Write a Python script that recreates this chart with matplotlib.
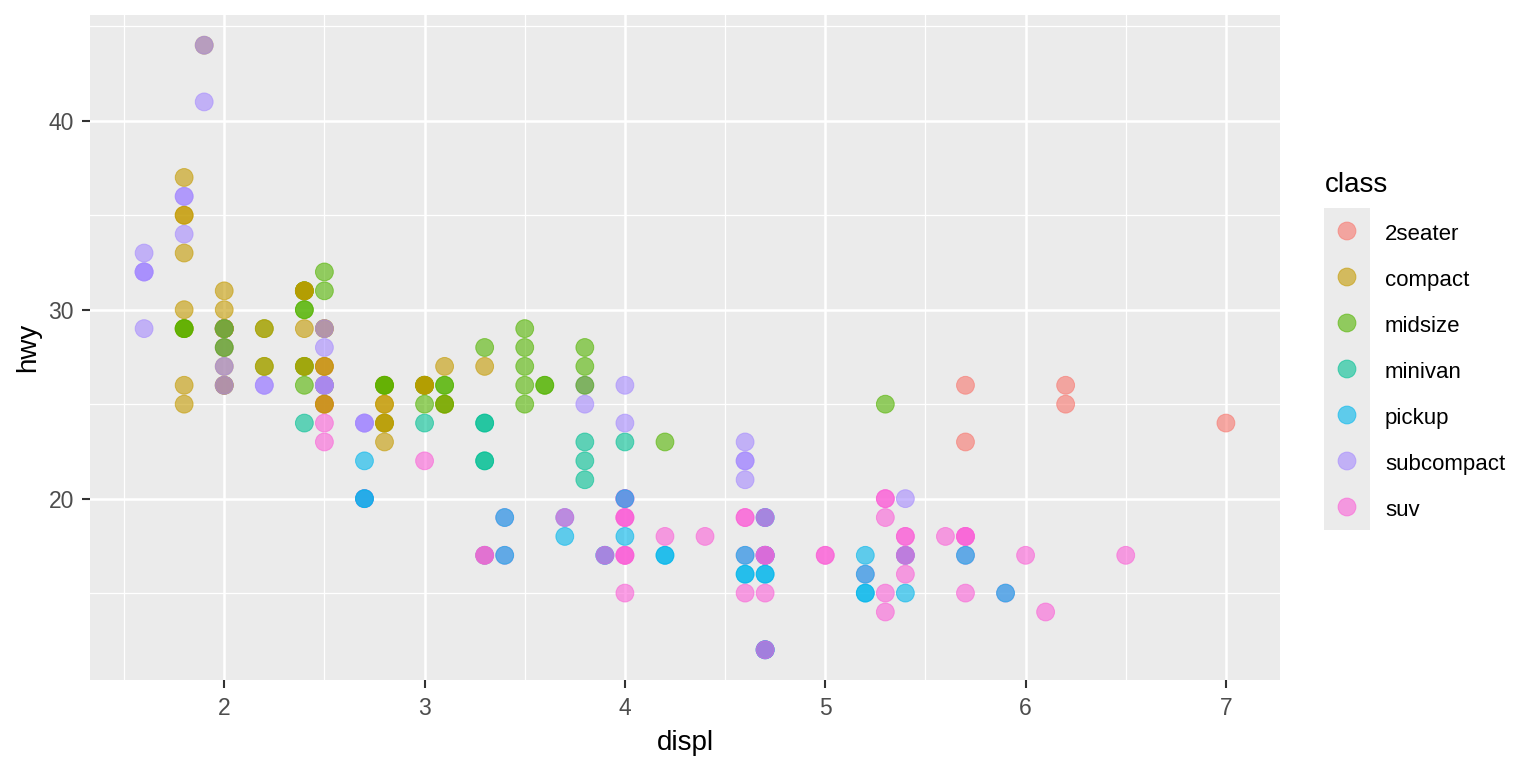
import matplotlib
matplotlib.use("Agg")
import matplotlib.pyplot as plt
from matplotlib.ticker import MultipleLocator
from matplotlib.transforms import blended_transform_factory

# mpg data: engine displacement, highway mpg, vehicle class (data order)
displ = [1.8, 1.8, 2.0, 2.0, 2.8, 2.8, 3.1,
         1.8, 1.8, 2.0, 2.0, 2.8, 2.8, 3.1, 3.1,
         2.8, 3.1, 4.2,
         5.3, 5.3, 5.3, 5.7, 6.0,
         5.7, 5.7, 6.2, 6.2, 7.0,
         5.3, 5.3, 5.7, 6.5,
         2.4, 2.4, 3.1, 3.5, 3.6,
         2.4, 3.0, 3.3, 3.3, 3.3, 3.3, 3.3, 3.8, 3.8, 3.8, 4.0,
         3.7, 3.7, 3.9, 3.9, 4.7, 4.7, 4.7, 5.2, 5.2,
         3.9, 4.7, 4.7, 4.7, 5.2, 5.7, 5.9,
         4.7, 4.7, 4.7, 4.7, 4.7, 4.7, 5.2, 5.2, 5.7, 5.9,
         4.6, 5.4, 5.4,
         4.0, 4.0, 4.0, 4.0, 4.6, 5.0,
         4.2, 4.2, 4.6, 4.6, 4.6, 5.4, 5.4,
         3.8, 3.8, 4.0, 4.0, 4.6, 4.6, 4.6, 4.6, 5.4,
         1.6, 1.6, 1.6, 1.6, 1.6, 1.8, 1.8, 1.8, 2.0,
         2.4, 2.4, 2.4, 2.4, 2.5, 2.5, 3.3,
         2.0, 2.0, 2.0, 2.0, 2.7, 2.7, 2.7,
         3.0, 3.7, 4.0, 4.7, 4.7, 4.7, 5.7, 6.1,
         4.0, 4.2, 4.4, 4.6,
         5.4, 5.4, 5.4,
         4.0, 4.0, 4.6, 5.0,
         2.4, 2.4, 2.5, 2.5, 3.5, 3.5,
         3.0, 3.0, 3.5,
         3.3, 3.3, 4.0, 5.6,
         3.1, 3.8, 3.8, 3.8, 5.3,
         2.5, 2.5, 2.5, 2.5, 2.5, 2.5,
         2.2, 2.2, 2.5, 2.5, 2.5, 2.5, 2.5, 2.5,
         2.7, 2.7, 3.4, 3.4, 4.0, 4.7,
         2.2, 2.2, 2.4, 2.4, 3.0, 3.0, 3.5,
         2.2, 2.2, 2.4, 2.4, 3.0, 3.0, 3.3,
         1.8, 1.8, 1.8, 1.8, 1.8,
         4.7, 5.7,
         2.7, 2.7, 2.7, 3.4, 3.4, 4.0, 4.0,
         2.0, 2.0, 2.0, 2.0, 2.8,
         1.9, 2.0, 2.0, 2.0, 2.0, 2.5, 2.5, 2.8, 2.8,
         1.9, 1.9, 2.0, 2.0, 2.5, 2.5,
         1.8, 1.8, 2.0, 2.0, 2.8, 2.8, 3.6]

hwy = [29, 29, 31, 30, 26, 26, 27,
       26, 25, 28, 27, 25, 25, 25, 25,
       24, 25, 23,
       20, 15, 20, 17, 17,
       26, 23, 26, 25, 24,
       19, 14, 15, 17,
       27, 30, 26, 29, 26,
       24, 24, 22, 22, 24, 24, 17, 22, 21, 23, 23,
       19, 18, 17, 17, 19, 19, 12, 17, 15,
       17, 17, 12, 17, 16, 18, 15,
       16, 12, 17, 17, 16, 12, 15, 16, 17, 15,
       17, 17, 18,
       17, 19, 17, 19, 19, 17,
       17, 17, 16, 16, 17, 15, 17,
       26, 25, 26, 24, 21, 22, 23, 22, 20,
       33, 32, 32, 29, 32, 34, 36, 36, 29,
       26, 27, 30, 31, 26, 26, 28,
       26, 29, 28, 27, 24, 24, 24,
       22, 19, 20, 17, 12, 19, 18, 14,
       15, 18, 18, 15,
       17, 16, 18,
       17, 19, 19, 17,
       29, 27, 31, 32, 27, 26,
       26, 25, 25,
       17, 17, 20, 18,
       26, 26, 27, 28, 25,
       25, 24, 27, 25, 26, 23,
       26, 26, 26, 26, 25, 27, 25, 27,
       20, 20, 19, 17, 20, 17,
       29, 27, 31, 31, 26, 26, 28,
       27, 29, 31, 31, 26, 26, 27,
       30, 33, 35, 37, 35,
       15, 18,
       20, 20, 22, 17, 19, 18, 20,
       29, 26, 29, 29, 24,
       44, 29, 26, 29, 29, 29, 29, 23, 24,
       44, 41, 29, 26, 28, 29,
       29, 29, 28, 29, 26, 26, 26]

# class runs in data order: (class, count)
class_runs = [("compact", 15), ("midsize", 3), ("suv", 5), ("2seater", 5),
              ("suv", 4), ("midsize", 5), ("minivan", 11), ("pickup", 9),
              ("suv", 7), ("pickup", 10), ("suv", 9), ("pickup", 7),
              ("subcompact", 18), ("midsize", 7), ("subcompact", 7),
              ("suv", 19), ("compact", 2), ("midsize", 7), ("suv", 4),
              ("midsize", 5), ("suv", 6), ("subcompact", 4), ("compact", 4),
              ("suv", 6), ("midsize", 7), ("compact", 12), ("suv", 2),
              ("pickup", 7), ("compact", 14), ("subcompact", 6), ("midsize", 7)]
cls = [c for c, n in class_runs for _ in range(n)]

classes = ["2seater", "compact", "midsize", "minivan", "pickup", "subcompact", "suv"]
palette = ["#F8766D", "#C49A00", "#53B400", "#00C094", "#00B6EB", "#A58AFF", "#FB61D7"]
col = dict(zip(classes, palette))

plt.rcParams['font.family'] = ['Liberation Sans', 'DejaVu Sans']

W, H = 1536, 768
fig = plt.figure(figsize=(W / 100, H / 100), dpi=100)
ax = fig.add_axes([90 / W, 1 - 680 / H, (1280 - 90) / W, (680 - 15) / H])
ax.set_facecolor("#EBEBEB")

colors = [col[c] for c in cls]
ax.scatter(displ, hwy, s=165, c=colors, edgecolors=colors, linewidths=0.7,
           alpha=0.6, zorder=3)

# ggplot-style expanded limits
xr = max(displ) - min(displ)
yr = max(hwy) - min(hwy)
ax.set_xlim(min(displ) - 0.05 * xr, max(displ) + 0.05 * xr)
ax.set_ylim(min(hwy) - 0.05 * yr, max(hwy) + 0.05 * yr)

ax.xaxis.set_major_locator(MultipleLocator(1))
ax.xaxis.set_minor_locator(MultipleLocator(0.5))
ax.yaxis.set_major_locator(MultipleLocator(10))
ax.yaxis.set_minor_locator(MultipleLocator(5))
ax.grid(which="major", color="white", linewidth=1.8, zorder=1)
ax.grid(which="minor", color="white", linewidth=0.9, zorder=1)
ax.set_axisbelow(True)
for s in ax.spines.values():
    s.set_visible(False)
ax.tick_params(which="major", direction="out", length=5.5, width=1.5,
               color="#333333", labelcolor="#4D4D4D", labelsize=16.5)
ax.tick_params(axis="x", pad=7)
ax.tick_params(axis="y", pad=6)
ax.tick_params(which="minor", length=0)

ax.set_xlabel("displ", fontsize=20, labelpad=7)
ax.set_ylabel("hwy", fontsize=20, labelpad=5)

# legend
kx0, kx1, ky0, ky1 = 1324, 1370, 208, 530
lax = fig.add_axes([kx0 / W, 1 - ky1 / H, (kx1 - kx0) / W, (ky1 - ky0) / H])
lax.set_facecolor("#EBEBEB")
lax.set_xlim(0, 1)
lax.set_ylim(0, len(classes))
lax.set_xticks([])
lax.set_yticks([])
for s in lax.spines.values():
    s.set_visible(False)
ypos = [len(classes) - 0.5 - i for i in range(len(classes))]
lax.scatter([0.5] * len(classes), ypos, s=165, c=palette, edgecolors=palette,
            linewidths=0.7, alpha=0.6)
tr = blended_transform_factory(fig.transFigure, lax.transData)
for yv, name in zip(ypos, classes):
    lax.text(1385 / W, yv - 0.03, name, fontsize=16, va="center_baseline", transform=tr)
fig.text(1325 / W, 1 - 185 / H, "class", fontsize=20, va="center", ha="left")

fig.savefig("out.png", dpi=100, facecolor="white")
